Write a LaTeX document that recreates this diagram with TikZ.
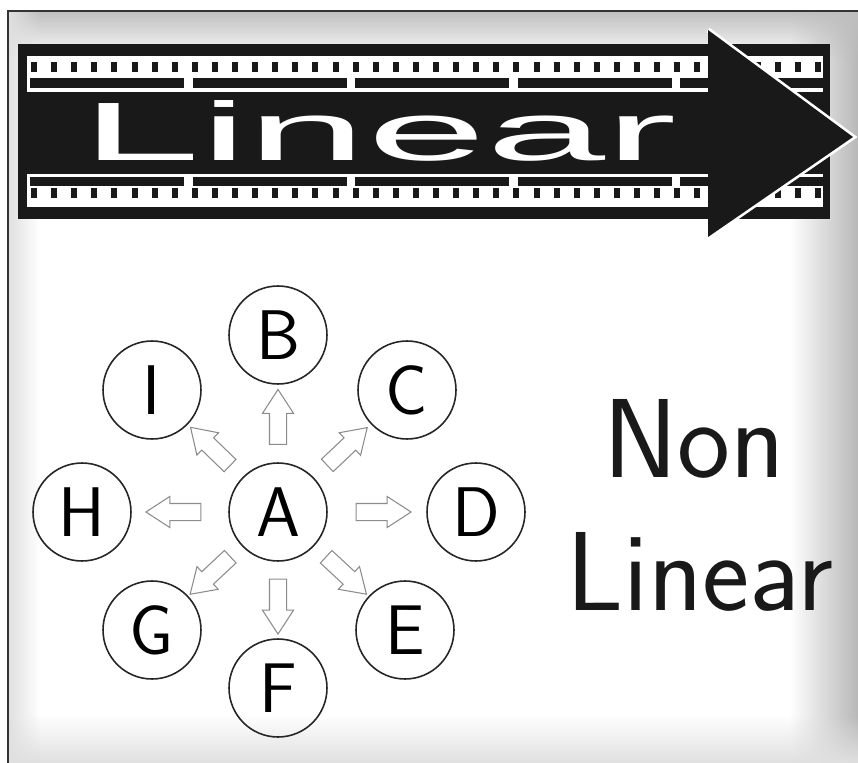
\documentclass[tikz,border=0pt]{standalone}
\usepackage{fontspec}
\newfontfamily\filmfont{Liberation Sans}
\usetikzlibrary{shapes.arrows,fadings}

\tikzset{
  letterbox/.style={circle,draw=black!85,line width=0.9pt,minimum size=1.96cm,inner sep=0pt,
    font=\sffamily\fontsize{40}{40}\selectfont},
  hollowarrow/.style={single arrow,draw=black!45,fill=white,line width=0.6pt,
    minimum height=1.1cm,inner xsep=0pt,inner ysep=0.16cm,
    single arrow head extend=0.14cm,single arrow tip angle=66,
    sloped,allow upside down,pos=0.5},
  bigword/.style={font=\sffamily\fontsize{64}{64}\selectfont,text=black!90,inner sep=0pt,anchor=base}
}

\begin{document}
\begin{tikzpicture}[x=0.02cm,y=-0.02cm]
  \useasboundingbox (0,0) rectangle (858,763);
  % background, grey towards the edges
  \fill[white] (0,0) rectangle (858,763);
  \fill[black!28,path fading=west] (790,11) rectangle (858,763);
  \fill[black!25,path fading=south] (8,11) rectangle (858,60);
  \fill[black!12,path fading=north] (8,715) rectangle (858,763);
  \fill[black!12,path fading=east] (8,11) rectangle (40,763);
  \draw[black!80,line width=1.6pt] (858,11) -- (8,11) -- (8,763);

  % film strip
  \fill[black!90] (18,44) rectangle (830,219);
  \fill[white] (27,56) rectangle (823,92);
  \fill[white] (27,174) rectangle (823,207);
  \begin{scope}
    \clip (27,44) rectangle (823,219);
    \foreach \k in {0,...,39}{
      \fill[black!90] (31+20.1*\k,62) rectangle ++(6,10);
      \fill[black!90] (31+20.1*\k,188) rectangle ++(6,10);
    }
    \foreach \s in {0,...,4}{
      \fill[black!90] (30+162.5*\s,78) rectangle ++(154,10);
      \fill[black!90] (30+162.5*\s,177) rectangle ++(154,9);
    }
  \end{scope}
  \node[anchor=south west,inner sep=0pt,text=white] (linearTxt) at (81,162)
    {\resizebox{11.9cm}{1.2cm}{\filmfont Linear}};
  % arrow head over the film
  \draw[white,line width=3pt] (708,30) -- (853,137) -- (708,237);
  \fill[black!90] (708,30) -- (853,137) -- (708,237) -- cycle;

  % centre and its neighbours
  \node[letterbox] (A) at (278,512) {A};
  \node[letterbox] (B) at (278,335) {B};
  \node[letterbox] (C) at (407,390) {C};
  \node[letterbox] (D) at (476,512) {D};
  \node[letterbox] (E) at (405,630) {E};
  \node[letterbox] (F) at (278,688) {F};
  \node[letterbox] (G) at (152,630) {G};
  \node[letterbox] (H) at (82,512) {H};
  \node[letterbox] (I) at (152,390) {I};
  \foreach \t in {B,C,D,E,F,G,H,I}
    \path (A) -- (\t) node[hollowarrow] (arr\t) {};

  \node[bigword] (nonTxt) at (694,477) {Non};
  \node[bigword] (linTxt) at (700,610) {Linear};
\end{tikzpicture}
\end{document}
